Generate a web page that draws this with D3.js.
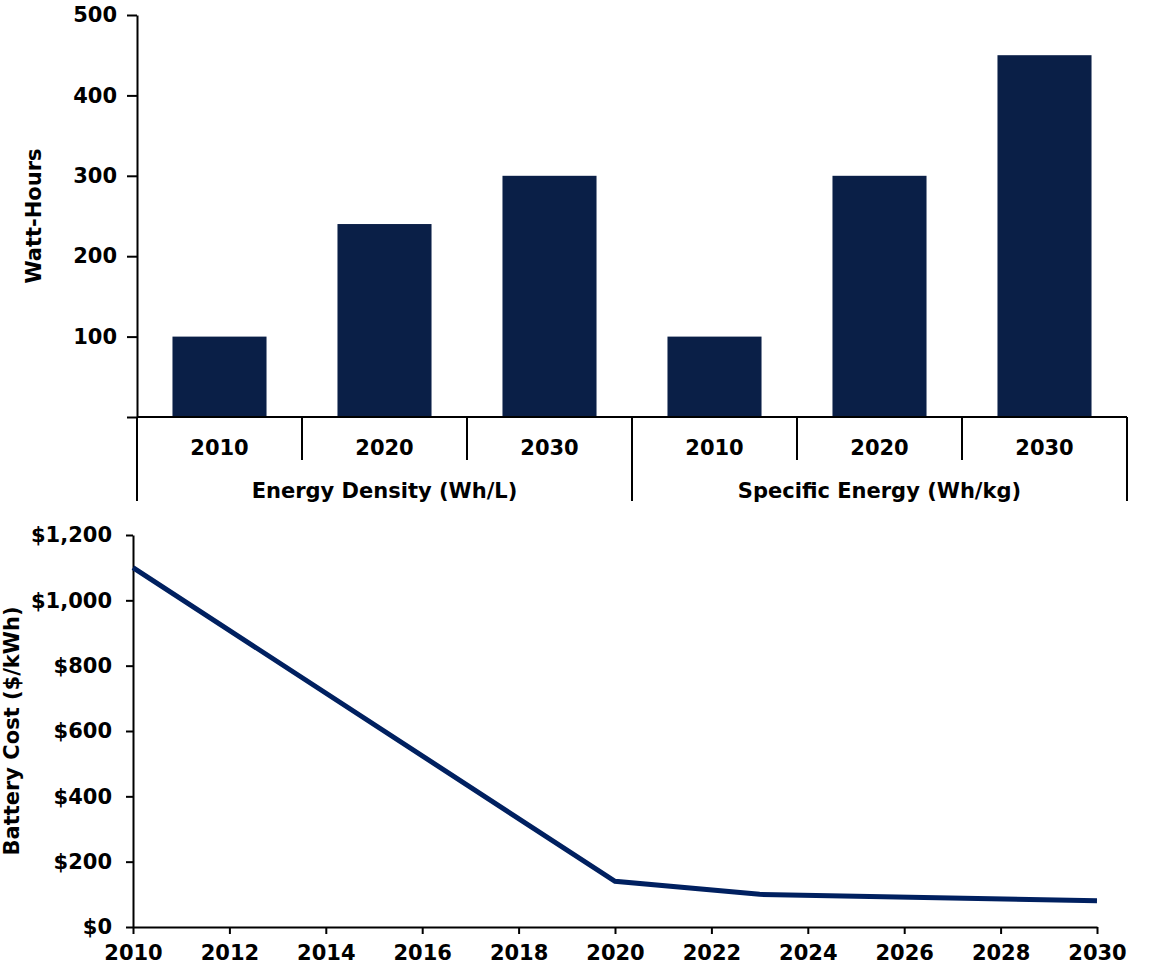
<!DOCTYPE html>
<html>
<head>
<meta charset="utf-8">
<script src="https://cdn.jsdelivr.net/npm/d3@7"></script>
<style>
  body { margin: 0; background: #fff; }
  svg text { font-family: "DejaVu Sans", Verdana, sans-serif; font-weight: bold; fill: #000; }
  .axis path, .axis line { stroke: #000; stroke-width: 2px; }
</style>
</head>
<body>
<script>
// top chart data
var groups = ["Energy Density (Wh/L)", "Specific Energy (Wh/kg)"];
var years = ["2010", "2020", "2030"];
var densityValues = [100, 240, 300];
var specificValues = [100, 300, 450];
var whTicks = [0, 100, 200, 300, 400, 500];

// bottom chart data
var costYears = [2010, 2020, 2023, 2030];
var costValues = [1100, 140, 100, 80];
var costTicks = [0, 200, 400, 600, 800, 1000, 1200];
var yearTicks = [2010, 2012, 2014, 2016, 2018, 2020, 2022, 2024, 2026, 2028, 2030];

var barColor = "#0a1f47";
var lineColor = "#002060";
var fontSize = "21px";

var svg = d3.select("body").append("svg")
	.attr("width", 1157)
	.attr("height", 968);

// ---------- bar chart ----------
var bars = [];
groups.forEach(function(g, gi) {
	var vals = gi == 0 ? densityValues : specificValues;
	years.forEach(function(y, yi) {
		bars.push({group: g, year: y, key: g + "|" + y, value: vals[yi]});
	});
});

var barBox = {left: 137, right: 1127, y0: 417, y1: 15};

var xBand = d3.scaleBand()
	.domain(bars.map(function(d) { return d.key; }))
	.range([barBox.left, barBox.right]);

var xGroup = d3.scaleBand()
	.domain(groups)
	.range([barBox.left, barBox.right]);

var yWh = d3.scaleLinear()
	.domain([0, 500])
	.range([barBox.y0, barBox.y1]);

var barW = xBand.bandwidth() * 0.57;

svg.selectAll(".bar")
	.data(bars)
	.enter().append("rect")
	.attr("class", "bar")
	.attr("fill", barColor)
	.attr("x", function(d) { return xBand(d.key) + (xBand.bandwidth() - barW) / 2; })
	.attr("y", function(d) { return yWh(d.value); })
	.attr("width", barW)
	.attr("height", function(d) { return barBox.y0 - yWh(d.value); });

var yAxisTop = svg.append("g")
	.attr("class", "axis")
	.attr("transform", "translate(" + barBox.left + ",0)")
	.call(d3.axisLeft(yWh).tickValues(whTicks).tickSize(10).tickSizeOuter(0)
		.tickFormat(function(d) { return d == 0 ? "" : d; }));
yAxisTop.selectAll("text").style("font-size", fontSize).attr("x", -20);

// baseline
svg.append("line")
	.attr("x1", barBox.left).attr("x2", barBox.right)
	.attr("y1", barBox.y0).attr("y2", barBox.y0)
	.attr("stroke", "#000").attr("stroke-width", 2);

// category dividers
var edges = [];
bars.forEach(function(d, i) {
	edges.push({x: xBand(d.key), long: i % 3 == 0});
});
edges.push({x: barBox.right, long: true});

svg.selectAll(".divider")
	.data(edges)
	.enter().append("line")
	.attr("class", "divider")
	.attr("x1", function(d) { return d.x; })
	.attr("x2", function(d) { return d.x; })
	.attr("y1", barBox.y0)
	.attr("y2", function(d) { return d.long ? 501 : 460; })
	.attr("stroke", "#000").attr("stroke-width", 2);

svg.selectAll(".yearLabel")
	.data(bars)
	.enter().append("text")
	.attr("class", "yearLabel")
	.attr("x", function(d) { return xBand(d.key) + xBand.bandwidth() / 2; })
	.attr("y", 455)
	.attr("text-anchor", "middle")
	.style("font-size", fontSize)
	.text(function(d) { return d.year; });

svg.selectAll(".groupLabel")
	.data(groups)
	.enter().append("text")
	.attr("class", "groupLabel")
	.attr("x", function(d) { return xGroup(d) + xGroup.bandwidth() / 2; })
	.attr("y", 498)
	.attr("text-anchor", "middle")
	.style("font-size", fontSize)
	.text(function(d) { return d; });

svg.append("text")
	.attr("transform", "translate(41," + ((barBox.y0 + barBox.y1) / 2) + ") rotate(-90)")
	.attr("text-anchor", "middle")
	.style("font-size", fontSize)
	.text("Watt-Hours");

// ---------- line chart ----------
var lineBox = {left: 133, right: 1097, y0: 927, y1: 535};

var xYear = d3.scaleLinear()
	.domain([2010, 2030])
	.range([lineBox.left, lineBox.right]);

var yCost = d3.scaleLinear()
	.domain([0, 1200])
	.range([lineBox.y0, lineBox.y1]);

var yAxisBot = svg.append("g")
	.attr("class", "axis")
	.attr("transform", "translate(" + lineBox.left + ",0)")
	.call(d3.axisLeft(yCost).tickValues(costTicks).tickSize(7).tickSizeOuter(0)
		.tickFormat(function(d) { return "$" + d3.format(",")(d); }));
yAxisBot.selectAll("text").style("font-size", fontSize).attr("x", -21);

var xAxisBot = svg.append("g")
	.attr("class", "axis")
	.attr("transform", "translate(0," + lineBox.y0 + ")")
	.call(d3.axisBottom(xYear).tickValues(yearTicks).tickSize(7).tickSizeOuter(0)
		.tickFormat(d3.format("d")));
xAxisBot.selectAll("text").style("font-size", fontSize).attr("y", 18);

var costData = costYears.map(function(y, i) { return {year: y, value: costValues[i]}; });

svg.append("path")
	.datum(costData)
	.attr("fill", "none")
	.attr("stroke", lineColor)
	.attr("stroke-width", 5)
	.attr("d", d3.line()
		.x(function(d) { return xYear(d.year); })
		.y(function(d) { return yCost(d.value); }));

svg.append("text")
	.attr("transform", "translate(19," + ((lineBox.y0 + lineBox.y1) / 2) + ") rotate(-90)")
	.attr("text-anchor", "middle")
	.style("font-size", fontSize)
	.text("Battery Cost ($/kWh)");
</script>
</body>
</html>
